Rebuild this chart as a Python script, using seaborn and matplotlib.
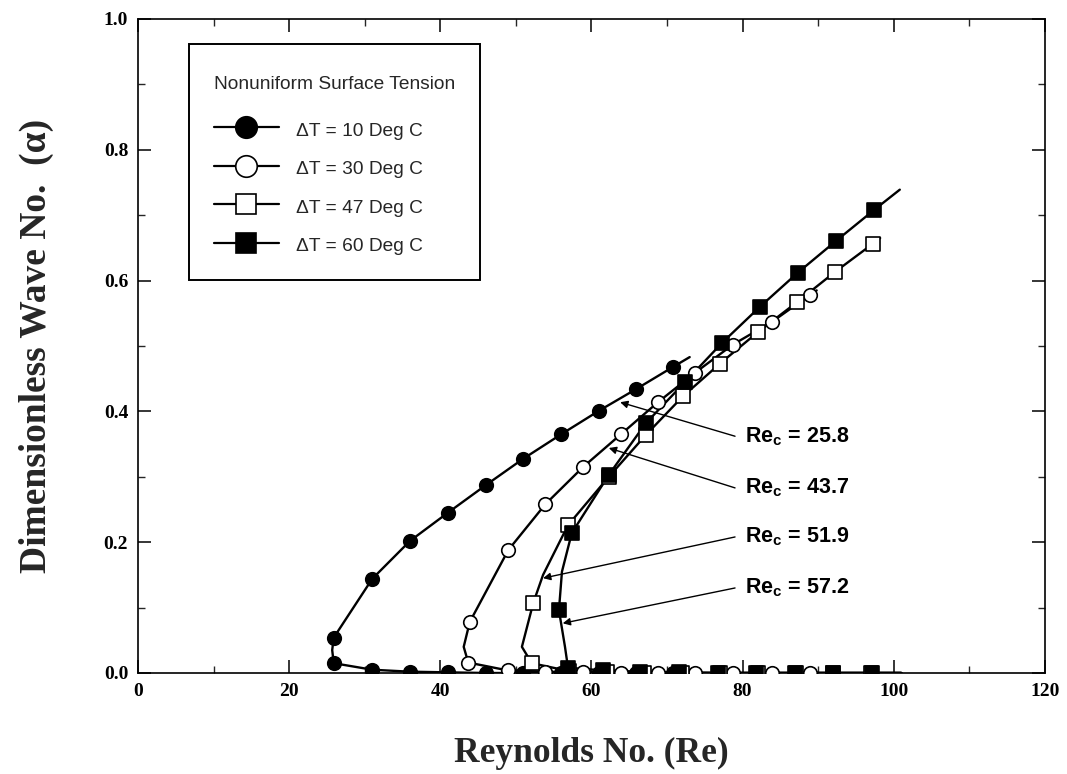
import numpy as np
import pandas as pd
import matplotlib
matplotlib.use("Agg")
import matplotlib.pyplot as plt
import seaborn as sns
from matplotlib.lines import Line2D
from matplotlib.ticker import MultipleLocator, FormatStrFormatter
from matplotlib.offsetbox import VPacker, DrawingArea

# ---------------- data ----------------
series_labels = ["\u0394T = 10 Deg C", "\u0394T = 30 Deg C", "\u0394T = 47 Deg C", "\u0394T = 60 Deg C"]
legend_title = "Nonuniform Surface Tension"

# dT = 10
s1_up_re = [25.9, 31.0, 36.0, 41.0, 46.0, 50.9, 56.0, 61.0, 65.9, 70.8]
s1_up_a = [0.054, 0.144, 0.202, 0.245, 0.287, 0.327, 0.365, 0.401, 0.434, 0.468]
s1_lo_re = [25.9, 31.0, 36.0, 41.0, 46.0, 50.9, 56.0, 61.0, 65.9, 70.8]
s1_lo_a = [0.015, 0.005, 0.002, 0.001, 0.0, 0.0, 0.0, 0.0, 0.0, 0.0]
s1_nose_re = [25.7]
s1_nose_a = [0.035]
s1_end_re = [73.0]
s1_end_a = [0.483]

# dT = 30
s2_up_re = [43.9, 49.0, 53.9, 58.9, 63.9, 68.8, 73.7, 78.7, 83.9, 88.9]
s2_up_a = [0.078, 0.188, 0.258, 0.315, 0.365, 0.414, 0.459, 0.502, 0.537, 0.578]
s2_lo_re = [43.7, 48.9, 53.9, 58.9, 63.9, 68.8, 73.7, 78.7, 83.9, 88.9]
s2_lo_a = [0.016, 0.004, 0.002, 0.001, 0.0, 0.0, 0.0, 0.0, 0.0, 0.0]
s2_nose_re = [43.1]
s2_nose_a = [0.040]
s2_end_re = [89.8]
s2_end_a = [0.585]

# dT = 47
s3_up_re = [52.3, 53.6, 56.9, 62.3, 67.2, 72.1, 77.0, 82.0, 87.2, 92.2, 97.2]
s3_up_a = [0.107, 0.150, 0.226, 0.300, 0.364, 0.423, 0.473, 0.521, 0.567, 0.613, 0.656]
s3_up_marker = [True, False, True, True, True, True, True, True, True, True, True]
s3_lo_re = [52.1, 57.0, 62.0, 67.0, 72.0, 77.0, 82.0, 87.0, 92.0, 97.0]
s3_lo_a = [0.015, 0.003, 0.001, 0.0, 0.0, 0.0, 0.0, 0.0, 0.0, 0.0]
s3_nose_re = [50.8]
s3_nose_a = [0.040]
s3_end_re = [98.2]
s3_end_a = [0.665]

# dT = 60
s4_up_re = [55.7, 56.1, 57.4, 62.3, 67.2, 72.4, 77.3, 82.3, 87.3, 92.4, 97.4]
s4_up_a = [0.096, 0.155, 0.214, 0.303, 0.382, 0.445, 0.505, 0.560, 0.612, 0.661, 0.708]
s4_up_marker = [True, False, True, True, True, True, True, True, True, True, True]
s4_lo_re = [56.9, 61.5, 66.4, 71.6, 76.7, 81.8, 86.9, 92.0, 97.1]
s4_lo_a = [0.008, 0.004, 0.002, 0.001, 0.0, 0.0, 0.0, 0.0, 0.0]
s4_nose_re = [56.5]
s4_nose_a = [0.040]
s4_end_re = [100.8]
s4_end_a = [0.739]

lower_tail_re = 101.0

# critical Reynolds annotations
rec_labels = ["Re$_c$ = 25.8", "Re$_c$ = 43.7", "Re$_c$ = 51.9", "Re$_c$ = 57.2"]
rec_text_a = [0.362, 0.283, 0.208, 0.130]
rec_tip_re = [63.8, 62.3, 53.6, 56.2]
rec_tip_a = [0.414, 0.344, 0.145, 0.076]
rec_start_re = 79.0
rec_text_re = 80.3

# ---------------- styling ----------------
sns.set_theme(style="ticks")
plt.rcParams.update({
    "font.family": ["Liberation Sans", "DejaVu Sans"],
    "mathtext.default": "regular",
    "axes.linewidth": 1.2,
    "xtick.direction": "in",
    "ytick.direction": "in",
    "xtick.top": True,
    "ytick.right": True,
})

fig = plt.figure(figsize=(10.67, 7.74), dpi=100)
ax = fig.add_axes([0.1293, 0.1305, 0.850, 0.845])

series = [
    dict(up_re=s1_up_re, up_a=s1_up_a, mk=None, lo_re=s1_lo_re, lo_a=s1_lo_a,
         nose_re=s1_nose_re, nose_a=s1_nose_a, end_re=s1_end_re, end_a=s1_end_a,
         marker="o", face="black"),
    dict(up_re=s2_up_re, up_a=s2_up_a, mk=None, lo_re=s2_lo_re, lo_a=s2_lo_a,
         nose_re=s2_nose_re, nose_a=s2_nose_a, end_re=s2_end_re, end_a=s2_end_a,
         marker="o", face="white"),
    dict(up_re=s3_up_re, up_a=s3_up_a, mk=s3_up_marker, lo_re=s3_lo_re, lo_a=s3_lo_a,
         nose_re=s3_nose_re, nose_a=s3_nose_a, end_re=s3_end_re, end_a=s3_end_a,
         marker="s", face="white"),
    dict(up_re=s4_up_re, up_a=s4_up_a, mk=s4_up_marker, lo_re=s4_lo_re, lo_a=s4_lo_a,
         nose_re=s4_nose_re, nose_a=s4_nose_a, end_re=s4_end_re, end_a=s4_end_a,
         marker="s", face="black"),
]

# curves
for s in series:
    re_line = [lower_tail_re] + s["lo_re"][::-1] + s["nose_re"] + s["up_re"] + s["end_re"]
    a_line = [0.0] + s["lo_a"][::-1] + s["nose_a"] + s["up_a"] + s["end_a"]
    df = pd.DataFrame({"re": re_line, "a": a_line})
    sns.lineplot(data=df, x="re", y="a", sort=False, estimator=None, color="black",
                 lw=1.7, ax=ax, legend=False, zorder=2)

# markers
for s in series:
    mk = s["mk"] if s["mk"] is not None else [True] * len(s["up_re"])
    re_m = [r for r, m in zip(s["up_re"], mk) if m] + s["lo_re"]
    a_m = [a for a, m in zip(s["up_a"], mk) if m] + s["lo_a"]
    size = 95 if s["marker"] == "o" else 100
    sns.scatterplot(x=re_m, y=a_m, marker=s["marker"], s=size, color=s["face"],
                    edgecolor="black", linewidth=1.2, ax=ax, legend=False, zorder=3)

# annotations
for lab, ya, tx, ty in zip(rec_labels, rec_text_a, rec_tip_re, rec_tip_a):
    ax.annotate("", xy=(tx, ty), xytext=(rec_start_re, ya),
                arrowprops=dict(arrowstyle="-|>", color="black", lw=1.0,
                                mutation_scale=11, shrinkA=0, shrinkB=0))
    ax.text(rec_text_re, ya, lab, ha="left", va="center", fontsize=15.5,
            fontweight="bold", color="black")

# axes
ax.set_xlim(0, 120)
ax.set_ylim(0, 1.0)
ax.xaxis.set_major_locator(MultipleLocator(20))
ax.xaxis.set_minor_locator(MultipleLocator(10))
ax.yaxis.set_major_locator(MultipleLocator(0.2))
ax.yaxis.set_minor_locator(MultipleLocator(0.1))
ax.yaxis.set_major_formatter(FormatStrFormatter("%.1f"))
ax.tick_params(which="major", length=9.5, width=1.1, pad=7, colors="black")
ax.tick_params(which="minor", length=5, width=1.0)
for lab in ax.get_xticklabels() + ax.get_yticklabels():
    lab.set_fontfamily("Liberation Serif")
    lab.set_fontweight("bold")
    lab.set_fontsize(14)
for sp in ax.spines.values():
    sp.set_color("black")

ax.set_xlabel("Reynolds No. (Re)", fontfamily="Liberation Serif", fontweight="bold",
              fontsize=25.5)
ax.set_ylabel("Dimensionless Wave No.  (\u03b1)", fontfamily="Liberation Serif",
              fontweight="bold", fontsize=27)
ax.xaxis.set_label_coords(0.5, -0.098)
ax.yaxis.set_label_coords(-0.093, 0.5)

# legend
handles = []
for s in series:
    handles.append(Line2D([0], [0], color="black", lw=1.6, marker=s["marker"],
                          markersize=15.5 if s["marker"] == "o" else 14.5,
                          markerfacecolor=s["face"], markeredgecolor="black",
                          markeredgewidth=1.2))
leg = ax.legend(handles, series_labels, title=legend_title, loc="upper left",
                bbox_to_anchor=(0.056, 0.962), borderaxespad=0, frameon=True,
                fancybox=False, edgecolor="black", framealpha=1, fontsize=13.8,
                title_fontsize=13.8, handlelength=3.4, handleheight=1.2,
                labelspacing=0.95, borderpad=1.3, handletextpad=0.9,
                alignment="left")
leg.get_frame().set_linewidth(1.4)
try:
    box = leg._legend_box
    box.sep = box.sep + 6
    title_box = box._children[0]
    box._children[0] = VPacker(children=[DrawingArea(1, 5), title_box],
                               pad=0, sep=0, align="left")
    box.set_figure(fig)
except Exception:
    pass
leg.set_zorder(5)

fig.savefig("out.png", dpi=100, facecolor="white")
